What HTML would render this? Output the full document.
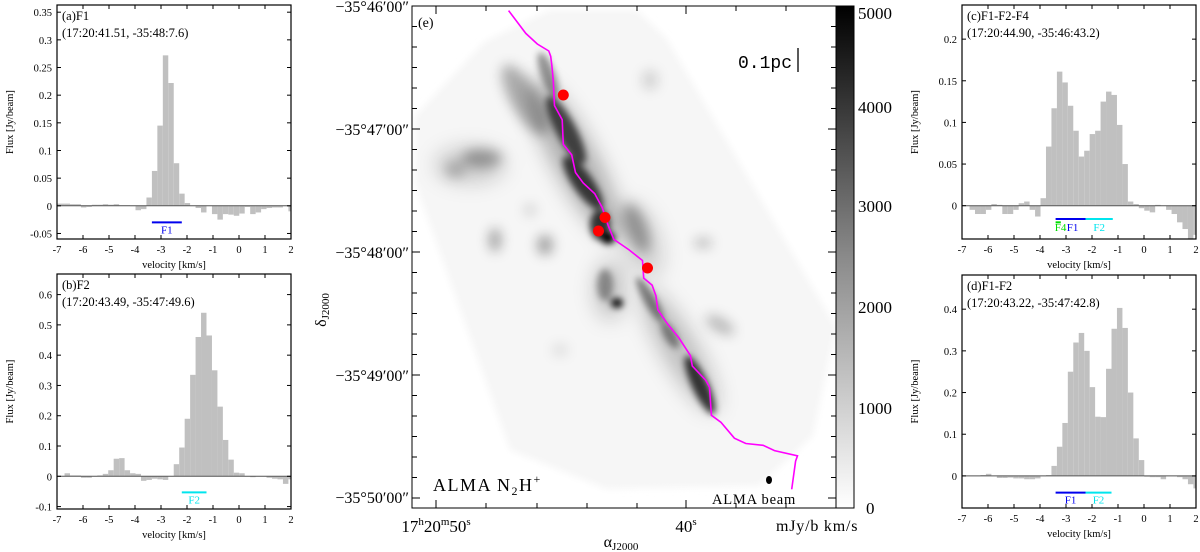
<!DOCTYPE html>
<html><head><meta charset="utf-8">
<style>
html,body{margin:0;padding:0;background:#fff;}
svg{display:block;font-family:"Liberation Serif",serif;}
</style></head>
<body>
<svg id="fig" width="1200" height="552" viewBox="0 0 1200 552" xmlns="http://www.w3.org/2000/svg">
<defs>
<filter id="blur" x="-50%" y="-50%" width="200%" height="200%"><feGaussianBlur stdDeviation="3.5"/></filter>
<filter id="blur2" x="-50%" y="-50%" width="200%" height="200%"><feGaussianBlur stdDeviation="6"/></filter>
<filter id="blur3" x="-50%" y="-50%" width="200%" height="200%"><feGaussianBlur stdDeviation="10"/></filter>
<linearGradient id="cbar" x1="0" y1="1" x2="0" y2="0">
<stop offset="0" stop-color="#ffffff"/><stop offset="0.5" stop-color="#8a8a8a"/><stop offset="1" stop-color="#000"/>
</linearGradient>
<clipPath id="mapclip"><rect x="412" y="6" width="424" height="502"/></clipPath>
</defs>
<g id="spectra"></g>

<g>
 <g clip-path="url(#mapclip)">
  <polygon points="415,116 484,42 549,10 637,10 667,39 836,327 813,436 759,486 606,489 510,450 415,183" fill="#f6f6f6" filter="url(#blur)"/>
  <g filter="url(#blur3)" fill="#000">
   <ellipse cx="575" cy="160" rx="22" ry="90" transform="rotate(-28 575 160)" opacity="0.28"/>
   <ellipse cx="680" cy="350" rx="18" ry="70" transform="rotate(-30 680 350)" opacity="0.22"/>
   <ellipse cx="470" cy="165" rx="35" ry="18" opacity="0.18"/>
   <ellipse cx="640" cy="240" rx="20" ry="40" transform="rotate(-20 640 240)" opacity="0.15"/>
   <ellipse cx="610" cy="290" rx="16" ry="30" opacity="0.2"/>
  </g>
  <g filter="url(#blur2)" fill="#000">
   <ellipse cx="525" cy="100" rx="14" ry="40" transform="rotate(-30 525 100)" opacity="0.3"/>
   <ellipse cx="482" cy="158" rx="20" ry="9" opacity="0.3"/>
   <ellipse cx="455" cy="170" rx="10" ry="8" opacity="0.2"/>
   <ellipse cx="495" cy="240" rx="6" ry="12" opacity="0.35"/>
   <ellipse cx="545" cy="245" rx="8" ry="10" opacity="0.35"/>
   <ellipse cx="637" cy="228" rx="10" ry="26" transform="rotate(-20 637 228)" opacity="0.3"/>
   <ellipse cx="703" cy="243" rx="9" ry="5" opacity="0.25"/>
   <ellipse cx="720" cy="325" rx="16" ry="7" transform="rotate(30 720 325)" opacity="0.25"/>
   <ellipse cx="650" cy="80" rx="8" ry="10" opacity="0.15"/>
   <ellipse cx="530" cy="210" rx="6" ry="6" opacity="0.15"/>
   <ellipse cx="560" cy="350" rx="8" ry="6" opacity="0.1"/>
  </g>
  <g filter="url(#blur)" fill="#000">
   <ellipse cx="548" cy="75" rx="7" ry="24" transform="rotate(-20 548 75)" opacity="0.4"/>
   <ellipse cx="566" cy="130" rx="10" ry="38" transform="rotate(-28 566 130)" opacity="0.65"/>
   <ellipse cx="583" cy="183" rx="10" ry="32" transform="rotate(-35 583 183)" opacity="0.7"/>
   <ellipse cx="600" cy="225" rx="10" ry="15" opacity="0.75"/>
   <ellipse cx="608" cy="238" rx="7" ry="6" opacity="1"/>
   <ellipse cx="605" cy="285" rx="8" ry="16" opacity="0.35"/>
   <ellipse cx="617" cy="303" rx="6" ry="5" opacity="0.95"/>
   <ellipse cx="650" cy="300" rx="6" ry="26" transform="rotate(-30 650 300)" opacity="0.45"/>
   <ellipse cx="670" cy="335" rx="6" ry="15" transform="rotate(-30 670 335)" opacity="0.4"/>
   <ellipse cx="700" cy="385" rx="8" ry="32" transform="rotate(-25 700 385)" opacity="0.75"/>
  </g>
 </g>
 <polyline fill="none" stroke="#ff00ff" stroke-width="1.6" points="508.6,10.6 525.8,33.4 537.3,44 548.8,51 550.7,56.3 551.8,65.1 553.3,81 554.5,105.6 562.2,119.7 563.3,144.3 571.7,154.9 575.5,172.5 583.2,183 594.7,193.6 602.3,207.7 608.1,225.3 613.8,239.4 629.1,249.9 642.5,260.5 643.7,278.1 652.1,285.1 655.9,295.7 657.8,309.7 667.4,323.8 678.9,337.9 690.4,355.5 692.3,366 705.7,380.2 709.5,387.2 711.4,415.3 721,422.4 734.4,438.2 745.8,443.5 763.1,445.3 774.5,450.6 797.5,455.8 795.6,461.1 791.7,489.3"/>
 <g fill="#ff0000">
  <circle cx="563.3" cy="95" r="5.5"/>
  <circle cx="605" cy="217.5" r="5.5"/>
  <circle cx="598.5" cy="231" r="5.5"/>
  <circle cx="647.5" cy="268" r="5.5"/>
 </g>
 <ellipse cx="769" cy="480" rx="3" ry="4" fill="#000"/>
 <rect x="412" y="6" width="424" height="502" fill="none" stroke="#000" stroke-width="1"/>
 <g id="mapticks" stroke="#000" stroke-width="1"></g>
 <rect x="836" y="6" width="18" height="502" fill="url(#cbar)" stroke="#000" stroke-width="1"/>
 <g font-size="13">
  <text x="418" y="27" font-size="14">(e)</text>
  <text x="738" y="68" font-size="18" font-family="Liberation Mono, monospace">0.1pc</text>
  <line x1="798" y1="48" x2="798" y2="72" stroke="#000" stroke-width="1.3"/>
  <text x="433" y="491" font-size="18" letter-spacing="1.5">ALMA N<tspan font-size="12" dy="4">2</tspan><tspan dy="-4">H</tspan><tspan font-size="12" dy="-8">+</tspan></text>
  <text x="712" y="504" font-size="14.5" letter-spacing="0.8">ALMA beam</text>
  <g text-anchor="end" font-size="16">
   <text x="409" y="12">−35°46′00″</text>
   <text x="409" y="135">−35°47′00″</text>
   <text x="409" y="258">−35°48′00″</text>
   <text x="409" y="381">−35°49′00″</text>
   <text x="409" y="503">−35°50′00″</text>
  </g>
  <text x="436" y="532" text-anchor="middle" font-size="17">17<tspan font-size="11" dy="-7">h</tspan><tspan dy="7">20</tspan><tspan font-size="11" dy="-7">m</tspan><tspan dy="7">50</tspan><tspan font-size="11" dy="-7">s</tspan></text>
  <text x="686" y="532" text-anchor="middle" font-size="17">40<tspan font-size="11" dy="-7">s</tspan></text>
  <text x="621" y="547" text-anchor="middle" font-size="16">α<tspan font-size="11" dy="3">J2000</tspan></text>
  <text transform="translate(326 310) rotate(-90)" text-anchor="middle" font-size="16">δ<tspan font-size="11" dy="3">J2000</tspan></text>
  <g font-size="17">
   <text x="858" y="19">5000</text>
   <text x="858" y="113">4000</text>
   <text x="858" y="212">3000</text>
   <text x="858" y="313">2000</text>
   <text x="858" y="414">1000</text>
   <text x="866" y="514">0</text>
  </g>
  <text x="776" y="531" font-size="16" letter-spacing="0.8">mJy/b km/s</text>
 </g>
</g>

<script>
// ---- spectral data (Flux [Jy/beam]) per channel, channel width 0.21 km/s ----
var binStart = -6.92;
var binWidth = 0.21;
var fluxA = [0.004,0.004,0.003,0.003,-0.003,-0.002,0.002,0.002,0.003,0.002,0.003,0.001,0.001,0.000,-0.008,-0.006,0.015,0.063,0.145,0.272,0.222,0.077,0.022,0.005,0.000,-0.004,-0.012,0.000,-0.015,-0.025,-0.015,-0.016,-0.018,-0.014,-0.002,-0.015,-0.012,-0.006,-0.004,-0.003,-0.003,0.000,-0.010];
var fluxB = [0.0,0.01,0.003,0.003,-0.005,-0.005,0.0,0.003,0.008,0.02,0.058,0.06,0.02,0.01,0.008,-0.015,-0.012,-0.008,-0.01,-0.012,0.0,0.04,0.095,0.19,0.335,0.46,0.54,0.465,0.35,0.23,0.12,0.055,0.012,0.01,0.0,-0.003,0.0,0.0,-0.005,-0.008,-0.01,-0.025,-0.01];
var fluxC = [0,-0.005,-0.01,-0.01,-0.005,0.002,0.001,-0.01,-0.01,-0.005,0.003,0.005,-0.005,-0.013,0.009,0.071,0.117,0.161,0.148,0.12,0.09,0.059,0.066,0.086,0.09,0.125,0.137,0.133,0.097,0.05,0.005,0.002,-0.003,-0.006,-0.008,0.001,0,-0.005,-0.01,-0.02,-0.028,-0.045,-0.035];
var fluxD = [0,0,0,0.002,0.005,0,-0.005,-0.005,-0.004,-0.006,-0.006,-0.008,-0.008,-0.006,0,0.002,0.024,0.07,0.127,0.25,0.32,0.343,0.3,0.213,0.142,0.141,0.257,0.353,0.403,0.355,0.2,0.09,0.038,-0.002,-0.003,-0.003,-0.008,0,0,-0.003,-0.008,-0.02,-0.03];
var xTicks = [-7,-6,-5,-4,-3,-2,-1,0,1,2];
var yTicksA = [0.35,0.3,0.25,0.2,0.15,0.1,0.05,0,-0.05];
var yTicksB = [0.6,0.5,0.4,0.3,0.2,0.1,0,-0.1];
var yTicksC = [0.2,0.15,0.1,0.05,0];
var yTicksD = [0.4,0.3,0.2,0.1,0];
var compsA = [["F1",-3.35,-2.2,-0.03]];
var compsB = [["F2",-2.2,-1.25,-0.053]];
var compsC = [["F1",-3.4,-2.25,-0.016],["F2",-2.25,-1.2,-0.016],["F4",-3.4,-3.2,-0.02]];
var compsD = [["F1",-3.4,-2.25,-0.04],["F2",-2.25,-1.25,-0.04]];
var compColor = {F1:"#0000ee",F2:"#00e5ee",F4:"#00dd00"};

var NS = "http://www.w3.org/2000/svg";
function mk(tag, attrs, parent){
  var e = document.createElementNS(NS, tag);
  for (var k in attrs) e.setAttribute(k, attrs[k]);
  parent.appendChild(e); return e;
}
function panel(p){
  var root = document.getElementById("spectra");
  var g = mk("g", {}, root);
  
  
  var X = function(v){ return p.x0 + (v - (-7)) / 9 * (p.x1 - p.x0); };
  var Y = function(f){ return p.y1 - (f - p.ymin) / (p.ymax - p.ymin) * (p.y1 - p.y0); };
  for (var i = 0; i < p.data.length; i++){
    var v0 = binStart + i * binWidth, v1 = v0 + binWidth;
    if (i === 0) v0 = -7;
    var f = p.data[i];
    var ya = Y(Math.max(f,0)), yb = Y(Math.min(f,0));
    var yc = Math.max(Math.min(ya,yb), p.y0), yd = Math.min(Math.max(ya,yb), p.y1);
    var xa = X(v0), xb = Math.min(X(v1), p.x1);
    if (xb <= xa) continue;
    var r = mk("rect", {x:xa, y:yc, width:xb-xa, height:Math.max(yd-yc,0.3), fill:"#c0c0c0"}, g);
    
    
  }
  var zl = mk("line", {x1:p.x0, x2:p.x1, y1:Y(0), y2:Y(0), stroke:"#555", "stroke-width":1}, g);
  
  
  var fr = mk("rect", {x:p.x0, y:p.y0, width:p.x1-p.x0, height:p.y1-p.y0, fill:"none", stroke:"#000", "stroke-width":1.2}, g);
  
  
  xTicks.forEach(function(t){
    var x = X(t);
    mk("line", {x1:x, x2:x, y1:p.y1, y2:p.y1-4, stroke:"#000"}, g);
    mk("line", {x1:x, x2:x, y1:p.y0, y2:p.y0+4, stroke:"#000"}, g);
    var tx = mk("text", {x:x, y:p.y1+14, "text-anchor":"middle", "font-size":10.5}, g);
    tx.textContent = String(t);
    
    
  });
  p.yt.forEach(function(t){
    var y = Y(t);
    mk("line", {x1:p.x0, x2:p.x0+4, y1:y, y2:y, stroke:"#000"}, g);
    mk("line", {x1:p.x1, x2:p.x1-4, y1:y, y2:y, stroke:"#000"}, g);
    var ty = mk("text", {x:p.x0-5, y:y+4, "text-anchor":"end", "font-size":10.5}, g);
    ty.textContent = String(t);
    
    
  });
  var xl = mk("text", {x:(p.x0+p.x1)/2, y:p.y1+29, "text-anchor":"middle", "font-size":10.5}, g);
  xl.textContent = "velocity [km/s]";
  
  
  var yl = mk("text", {transform:"translate("+(p.x0-44)+" "+((p.y0+p.y1)/2)+") rotate(-90)", "text-anchor":"middle", "font-size":10.5}, g);
  yl.textContent = "Flux [Jy/beam]";
  
  
  var t1 = mk("text", {x:p.x0+5, y:p.y0+15, "font-size":12.5}, g);
  t1.textContent = p.title;
  
  
  var t2 = mk("text", {x:p.x0+5, y:p.y0+32, "font-size":12.5}, g);
  t2.textContent = p.coord;
  
  
  p.comps.forEach(function(c){
    var ln = mk("line", {x1:X(c[1]), x2:X(c[2]), y1:Y(c[3]), y2:Y(c[3]), stroke:compColor[c[0]], "stroke-width":2}, g);
    
    
  });
  p.comps.forEach(function(c){
    var lx = X((c[1]+c[2])/2);
    var ly = Y(c[3]) + 11;
    if (c[0] === "F4") { lx = X(c[1]) + 5; ly = Y(-0.016) + 12; }
    if (p.comps.length === 3 && c[0] === "F1") { lx = X(c[1]) + 17; ly = Y(c[3]) + 12; }
    if (p.comps.length === 3 && c[0] === "F2") { ly = Y(c[3]) + 12; }
    var lt = mk("text", {x:lx, y:ly, "text-anchor":"middle", "font-size":11, fill:compColor[c[0]]}, g);
    lt.textContent = c[0];
    
    
  });
}
panel({id:"a", x0:57, x1:291, y0:5, y1:239, ymin:-0.06, ymax:0.363, data:fluxA, yt:yTicksA, comps:compsA, title:"(a)F1", coord:"(17:20:41.51, -35:48:7.6)"});
panel({id:"b", x0:57, x1:291, y0:274, y1:509, ymin:-0.108, ymax:0.668, data:fluxB, yt:yTicksB, comps:compsB, title:"(b)F2", coord:"(17:20:43.49, -35:47:49.6)"});
panel({id:"c", x0:962, x1:1196, y0:5, y1:239, ymin:-0.04, ymax:0.241, data:fluxC, yt:yTicksC, comps:compsC, title:"(c)F1-F2-F4", coord:"(17:20:44.90, -35:46:43.2)"});
panel({id:"d", x0:962, x1:1196, y0:275, y1:508, ymin:-0.077, ymax:0.482, data:fluxD, yt:yTicksD, comps:compsD, title:"(d)F1-F2", coord:"(17:20:43.22, -35:47:42.8)"});

(function(){
  var g = document.getElementById("mapticks");
  var xs = [436,486,537,587,637,686,736,786];
  xs.forEach(function(x){
    var L = (x===436||x===686) ? 8 : 5;
    mk("line", {x1:x, x2:x, y1:508, y2:508-L}, g);
    mk("line", {x1:x, x2:x, y1:6, y2:6+L}, g);
  });
  for (var k = 0; k <= 24; k++){
    var y = 6 + k * 20.5;
    if (y > 508) break;
    var L = (k % 6 === 0) ? 8 : 5;
    mk("line", {x1:412, x2:412+L, y1:y, y2:y}, g);
    mk("line", {x1:836, x2:836-L, y1:y, y2:y}, g);
  }
})();
</script>
</svg>
</body></html>
